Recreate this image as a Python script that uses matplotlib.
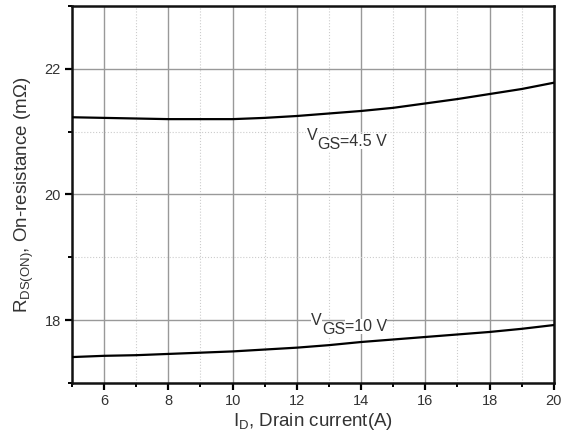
import matplotlib
matplotlib.use("Agg")
import matplotlib.pyplot as plt
from matplotlib.ticker import MultipleLocator

plt.rcParams['font.family'] = ['Liberation Sans', 'DejaVu Sans']
plt.rcParams['mathtext.fontset'] = 'custom'
plt.rcParams['mathtext.rm'] = 'Liberation Sans'
plt.rcParams['mathtext.it'] = 'Liberation Sans:italic'
plt.rcParams['mathtext.bf'] = 'Liberation Sans:bold'

# drain current (A)
i_d = [5, 6, 7, 8, 9, 10, 11, 12, 13, 14, 15, 16, 17, 18, 19, 20]
# on-resistance (mOhm)
r_45 = [21.23, 21.22, 21.21, 21.20, 21.20, 21.20, 21.22, 21.25, 21.29,
        21.33, 21.38, 21.45, 21.52, 21.60, 21.68, 21.78]
r_10 = [17.41, 17.43, 17.44, 17.46, 17.48, 17.50, 17.53, 17.56, 17.60,
        17.65, 17.69, 17.73, 17.77, 17.81, 17.86, 17.92]

txt = '#333333'

fig = plt.figure(figsize=(5.71, 4.38), dpi=100)
ax = fig.add_axes([0.126, 0.126, 0.844, 0.860])

ax.plot(i_d, r_45, color='black', lw=1.6, zorder=3)
ax.plot(i_d, r_10, color='black', lw=1.6, zorder=3)

ax.set_xlim(5, 20)
ax.set_ylim(17, 23)
ax.xaxis.set_major_locator(MultipleLocator(2))
ax.xaxis.set_minor_locator(MultipleLocator(1))
ax.yaxis.set_major_locator(MultipleLocator(2))
ax.yaxis.set_minor_locator(MultipleLocator(1))
ax.set_xticks([6, 8, 10, 12, 14, 16, 18, 20])

ax.grid(which='major', color='#999999', lw=1.0, ls='-')
ax.grid(which='minor', color='#cccccc', lw=0.8, ls=':')
ax.set_axisbelow(True)

for s in ax.spines.values():
    s.set_linewidth(1.8)
    s.set_color('#111111')

ax.tick_params(which='major', direction='out', length=5, width=1.6,
               labelsize=10.5, labelcolor=txt, pad=3)
ax.tick_params(which='minor', direction='out', length=3, width=1.4)

ax.set_xlabel(r'I$_{\mathrm{D}}$, Drain current(A)', fontsize=13.5, color=txt, labelpad=2)
ax.set_ylabel(r'R$_{\mathrm{DS(ON)}}$, On-resistance (m$\Omega$)', fontsize=13.5,
              color=txt, labelpad=6)


def vgs_label(x, y, value):
    # V, subscript GS, then "=value" back up on the baseline
    box = dict(fc='white', ec='none', pad=0)
    t1 = ax.text(x, y, 'V', fontsize=11.5, color=txt, va='baseline', ha='left',
                 zorder=4, bbox=box)
    t2 = ax.annotate('GS', xy=(1, 0), xycoords=t1, xytext=(0, -4),
                     textcoords='offset points', fontsize=11.5, color=txt,
                     va='baseline', ha='left', zorder=4, bbox=box)
    ax.annotate('=' + value, xy=(1, 0), xycoords=t2, xytext=(0, 4),
                textcoords='offset points', fontsize=11.5, color=txt,
                va='baseline', ha='left', zorder=4, bbox=box)


vgs_label(12.3, 20.86, '4.5 V')
vgs_label(12.45, 17.92, '10 V')

fig.savefig('out.png', dpi=100)
